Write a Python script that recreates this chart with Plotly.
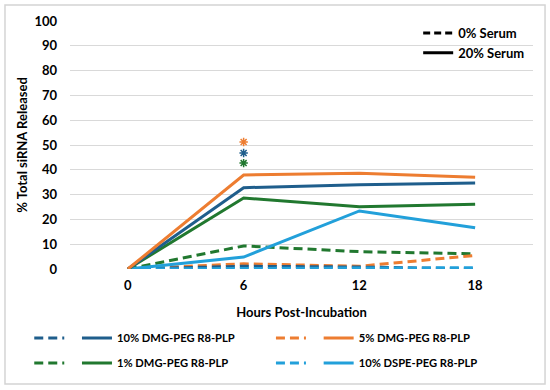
import plotly.graph_objects as go

hours = ["0", "6", "12", "18"]

series_names = ["10% DMG-PEG R8-PLP", "5% DMG-PEG R8-PLP", "1% DMG-PEG R8-PLP", "10% DSPE-PEG R8-PLP"]
series_colors = ["#1F5E8C", "#ED7D31", "#21782F", "#22A0DA"]

# 20% serum (solid)
serum20_dmg10 = [0, 32.8, 34.0, 34.7]
serum20_dmg5 = [0, 37.9, 38.6, 37.0]
serum20_dmg1 = [0, 28.6, 25.1, 26.1]
serum20_dspe10 = [0, 4.8, 23.4, 16.6]

# 0% serum (dashed)
serum0_dmg10 = [0, 1.1, 0.8, 0.0]
serum0_dmg5 = [0, 2.1, 1.1, 5.5]
serum0_dmg1 = [0, 9.3, 7.0, 6.1]
serum0_dspe10 = [0, 0.3, 0.4, 0.5]

# significance stars at 6 h
star_hours = ["6", "6", "6"]
star_values = [51.2, 46.8, 42.7]
star_colors = ["#ED7D31", "#1F5E8C", "#21782F"]

solid = [serum20_dmg10, serum20_dmg5, serum20_dmg1, serum20_dspe10]
dashed = [serum0_dmg10, serum0_dmg5, serum0_dmg1, serum0_dspe10]

FONT = "Lato"
DASH = "9px,5px"
legend_ids = ["legend", "legend2", "legend3", "legend4"]

fig = go.Figure()

draw_order = [2, 1, 0, 3]
for i in draw_order:
    fig.add_trace(go.Scatter(
        x=hours, y=dashed[i], mode="lines", name=" ",
        line=dict(color=series_colors[i], width=3, dash=DASH),
        legend=legend_ids[i], legendrank=1, hoverinfo="skip"))
for i in [3, 2, 0, 1]:
    fig.add_trace(go.Scatter(
        x=hours, y=solid[i], mode="lines", name=series_names[i],
        line=dict(color=series_colors[i], width=3),
        legend=legend_ids[i], legendrank=2, hoverinfo="skip"))

fig.add_trace(go.Scatter(x=[None], y=[None], mode="lines", name="0% Serum",
                         line=dict(color="black", width=3, dash="7px,4px"), legend="legend5"))
fig.add_trace(go.Scatter(x=[None], y=[None], mode="lines", name="20% Serum",
                         line=dict(color="black", width=3), legend="legend5"))

# significance asterisks as markers
fig.add_trace(go.Scatter(
    x=star_hours, y=star_values, mode="markers", showlegend=False, hoverinfo="skip",
    marker=dict(symbol="asterisk-open", size=7, color=star_colors,
                line=dict(color=star_colors, width=1.5))))

legfont = dict(family=FONT, size=11.2, color="black", weight="bold")
legend_common = dict(orientation="h", font=legfont, bgcolor="rgba(0,0,0,0)",
                     xanchor="left", yanchor="middle", traceorder="normal",
                     itemwidth=30, tracegroupgap=0)
lx = [-0.088, 0.434, -0.088, 0.434]
ly = [-0.278, -0.278, -0.379, -0.379]

layout_legends = {}
for k in range(4):
    layout_legends[legend_ids[k]] = dict(legend_common, x=lx[k], y=ly[k])
layout_legends["legend5"] = dict(orientation="v", font=dict(legfont, size=13),
                                 bgcolor="rgba(0,0,0,0)", tracegroupgap=0,
                                 x=0.752, y=1.012, xanchor="left", yanchor="top", itemwidth=30)

fig.update_layout(
    width=550, height=390,
    margin=dict(l=70, r=17, t=21, b=121),
    paper_bgcolor="white", plot_bgcolor="white",
    font=dict(family=FONT, size=13, color="black"),
    showlegend=True,
    **layout_legends,
    shapes=[dict(type="rect", xref="paper", yref="paper",
                 x0=-0.1404, x1=1.026, y0=-0.4637, y1=1.0645,
                 line=dict(color="#D4D4D4", width=1.5), layer="below")],
)

fig.update_xaxes(
    type="category", range=[-0.5, 3.5], showgrid=False, zeroline=False, showline=False,
    tickfont=dict(family=FONT, size=13, color="black", weight="bold"),
    ticklabelstandoff=7,
    title=dict(text="Hours Post-Incubation", standoff=15,
               font=dict(family=FONT, size=13, color="black", weight="bold")),
)
fig.update_yaxes(
    range=[0, 100], dtick=10, showgrid=True, gridcolor="#D9D9D9", gridwidth=1,
    zeroline=False, showline=False,
    tickfont=dict(family=FONT, size=13, color="black", weight="bold"),
    ticklabelstandoff=12,
    title=dict(text="% Total siRNA Released", standoff=3,
               font=dict(family=FONT, size=13, color="black", weight="bold")),
)

fig.write_html("out.html", config={"displayModeBar": False},
               post_script="document.body.style.margin='0';")
